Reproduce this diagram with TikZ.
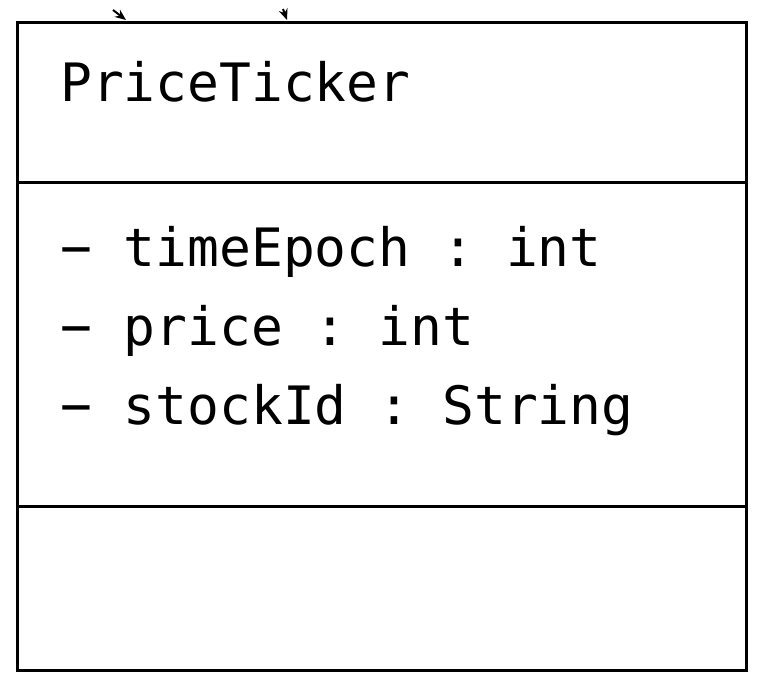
\documentclass[tikz,border=0pt]{standalone}
\usepackage{fontspec}
\newfontfamily\umlmono{DejaVu Sans Mono}
\usetikzlibrary{arrows.meta}
\begin{document}
\begin{tikzpicture}[x=1pt,y=-1pt,
  boxline/.style={draw=black,line width=3pt},
  umltext/.style={anchor=base west,inner sep=0pt,font=\umlmono\frenchspacing\fontsize{52.9}{60}\selectfont},
  assoc/.style={line width=2pt,-{Stealth[length=11pt,width=9pt]}}]
\useasboundingbox (0,0) rectangle (760,688);
\clip (0,0) rectangle (760,688);
\node[boxline,fill=white,minimum width=729pt,minimum height=648pt,inner sep=0pt,anchor=north west] (box) at (16,21) {};
\coordinate (d1w) at (16,182);
\coordinate (d1e) at (745,182);
\coordinate (d2w) at (16,506);
\coordinate (d2e) at (745,506);
\draw[boxline] (d1w) -- (d1e);
\draw[boxline] (d2w) -- (d2e);
\node[umltext] (name) at (60,101) {PriceTicker};
\node[umltext] (a1) at (60,266) {− timeEpoch : int};
\node[umltext] (a2) at (60,345) {− price : int};
\node[umltext] (a3) at (60,424) {− stockId : String};
\coordinate (s1) at (113,10);
\coordinate (t1) at (126,20);
\coordinate (s2) at (283,9);
\coordinate (t2) at (287,20);
\draw[assoc] (s1) -- (t1);
\draw[assoc] (s2) -- (t2);
\end{tikzpicture}
\end{document}
